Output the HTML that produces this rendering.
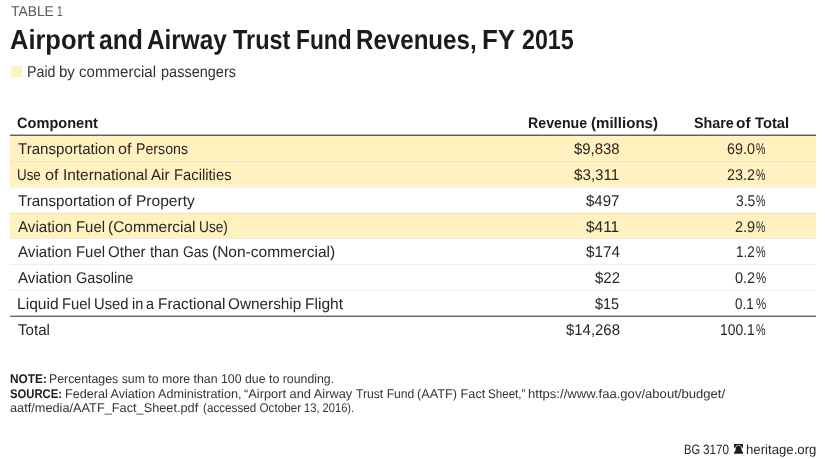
<!DOCTYPE html>
<html>
<head>
<meta charset="utf-8">
<title>Table 1</title>
<style>
html,body{margin:0;padding:0;background:#fff;}
body{will-change:transform;text-rendering:geometricPrecision;width:825px;height:459px;position:relative;overflow:hidden;font-family:"Liberation Sans",sans-serif;color:#231f20;}
.abs{position:absolute;}
.g span{position:absolute;white-space:nowrap;line-height:1;transform-origin:0 0;}
.g b{font-weight:700;color:#1d1a1b;}
#legsq{left:11px;top:66px;width:11px;height:11px;background:#fff2bf;}
.band{position:absolute;left:10px;width:806px;background:#fff2bf;}
.band.half{background:#fff8df}
.band.q3{background:#fffbef}
.sep{position:absolute;left:10px;width:806px;height:1px;background:rgba(215,215,215,0.42);}
.rule{position:absolute;left:10px;width:806px;height:1px;}
#bell{left:733.9px;top:443.9px;}
#kick span{font-size:14.2px;color:#58585a;top:4.7px;}
#title span{font-size:27.5px;font-weight:700;color:#1d1a1b;top:25.72px;}
#leg span{font-size:15.8px;color:#333;top:64.8px;}
#hdr span{font-size:15.1px;font-weight:700;color:#1d1a1b;top:115.9px;}
#r1 span{font-size:15.5px;color:#2a2627;top:141.78px;}
#r2 span{font-size:15.5px;color:#2a2627;top:167.78px;}
#r3 span{font-size:15.5px;color:#2a2627;top:193.78px;}
#r4 span{font-size:15.5px;color:#2a2627;top:219.78px;}
#r5 span{font-size:15.5px;color:#2a2627;top:244.78px;}
#r6 span{font-size:15.5px;color:#2a2627;top:270.78px;}
#r7 span{font-size:15.5px;color:#2a2627;top:296.78px;}
#r8 span{font-size:15.5px;color:#2a2627;top:322.78px;}
#n1 span{font-size:12.6px;color:#373334;top:373.0px;}
#n2 span{font-size:12.6px;color:#373334;top:388.0px;}
#n3 span{font-size:12.6px;color:#373334;top:402.0px;}
#foot span{font-size:13.6px;color:#2a2627;top:443.2px;}
</style>
</head>
<body>
<div class="g" id="kick"><span style="left:11.32px;transform:scaleX(0.9761)">TABLE</span> <span style="left:56.88px;transform:scaleX(0.7205)">1</span></div>
<div class="g" id="title"><span style="left:9.74px;transform:scaleX(0.9255)">Airport</span> <span style="left:99.00px;transform:scaleX(0.8994)">and</span> <span style="left:147.24px;transform:scaleX(0.8837)">Airway</span> <span style="left:232.82px;transform:scaleX(0.8539)">Trust</span> <span style="left:295.92px;transform:scaleX(0.8275)">Fund</span> <span style="left:355.92px;transform:scaleX(0.8766)">Revenues,</span> <span style="left:482.44px;transform:scaleX(0.9423)">FY</span> <span style="left:521.74px;transform:scaleX(0.8453)">2015</span></div>
<div id="legsq" class="abs"></div>
<div class="g" id="leg"><span style="left:27.02px;transform:scaleX(0.9019)">Paid</span> <span style="left:59.00px;transform:scaleX(0.9528)">by</span> <span style="left:78.98px;transform:scaleX(0.9536)">commercial</span> <span style="left:161.26px;transform:scaleX(0.9183)">passengers</span></div>
<div class="g" id="hdr"><span style="left:17.12px;transform:scaleX(0.9654)">Component</span> <span style="left:528.02px;transform:scaleX(0.9394)">Revenue</span> <span style="left:590.50px;transform:scaleX(0.9992)">(millions)</span> <span style="left:693.50px;transform:scaleX(0.9498)">Share</span> <span style="left:735.88px;transform:scaleX(1.0196)">of</span> <span style="left:754.54px;transform:scaleX(0.9777)">Total</span></div>
<div class="band" style="top:136px;height:50px"></div><div class="band half" style="top:186px;height:1px"></div>
<div class="band" style="top:213px;height:25px"></div><div class="band q3" style="top:212px;height:1px"></div>
<div class="g" id="r1"><span style="left:17.80px;transform:scaleX(0.9756)">Transportation</span> <span style="left:117.98px;transform:scaleX(1.0454)">of</span> <span style="left:136.02px;transform:scaleX(0.9163)">Persons</span> <span style="left:573.54px;transform:scaleX(0.9595)">$9,838</span> <span style="left:727.00px;transform:scaleX(0.9259)">69.0</span><span style="left:755.80px;transform:scaleX(0.6845)">%</span></div>
<div class="g" id="r2"><span style="left:17.00px;transform:scaleX(0.8640)">Use</span> <span style="left:45.00px;transform:scaleX(1.0480)">of</span> <span style="left:62.74px;transform:scaleX(0.9935)">International</span> <span style="left:151.34px;transform:scaleX(0.9778)">Air</span> <span style="left:173.98px;transform:scaleX(0.9542)">Facilities</span> <span style="left:573.54px;transform:scaleX(0.9794)">$3,311</span> <span style="left:727.00px;transform:scaleX(0.9259)">23.2</span><span style="left:755.80px;transform:scaleX(0.6845)">%</span></div>
<div class="g" id="r3"><span style="left:17.80px;transform:scaleX(0.9756)">Transportation</span> <span style="left:117.98px;transform:scaleX(1.0454)">of</span> <span style="left:136.02px;transform:scaleX(1.0029)">Property</span> <span style="left:585.54px;transform:scaleX(0.9678)">$497</span> <span style="left:735.50px;transform:scaleX(0.8938)">3.5</span><span style="left:755.80px;transform:scaleX(0.6845)">%</span></div>
<div class="g" id="r4"><span style="left:17.94px;transform:scaleX(0.9802)">Aviation</span> <span style="left:76.20px;transform:scaleX(0.9623)">Fuel</span> <span style="left:108.02px;transform:scaleX(0.9964)">(Commercial</span> <span style="left:198.74px;transform:scaleX(0.8824)">Use)</span> <span style="left:585.54px;transform:scaleX(0.9964)">$411</span> <span style="left:735.00px;transform:scaleX(0.9359)">2.9</span><span style="left:755.80px;transform:scaleX(0.6780)">%</span></div>
<div class="g" id="r5"><span style="left:17.94px;transform:scaleX(0.9769)">Aviation</span> <span style="left:76.20px;transform:scaleX(0.9623)">Fuel</span> <span style="left:108.02px;transform:scaleX(0.9704)">Other</span> <span style="left:150.04px;transform:scaleX(0.9571)">than</span> <span style="left:183.02px;transform:scaleX(0.8983)">Gas</span> <span style="left:211.98px;transform:scaleX(1.0001)">(Non-commercial)</span> <span style="left:585.54px;transform:scaleX(0.9862)">$174</span> <span style="left:735.98px;transform:scaleX(0.8658)">1.2</span><span style="left:755.80px;transform:scaleX(0.6995)">%</span></div>
<div class="g" id="r6"><span style="left:17.94px;transform:scaleX(0.9769)">Aviation</span> <span style="left:75.98px;transform:scaleX(0.9376)">Gasoline</span> <span style="left:594.82px;transform:scaleX(0.9680)">$22</span> <span style="left:735.00px;transform:scaleX(0.9359)">0.2</span><span style="left:755.80px;transform:scaleX(0.7374)">%</span></div>
<div class="g" id="r7"><span style="left:17.00px;transform:scaleX(1.0078)">Liquid</span> <span style="left:61.50px;transform:scaleX(0.9557)">Fuel</span> <span style="left:94.12px;transform:scaleX(0.9529)">Used</span> <span style="left:131.90px;transform:scaleX(0.9409)">in</span> <span style="left:145.74px;transform:scaleX(0.9278)">a</span> <span style="left:157.88px;transform:scaleX(0.9906)">Fractional</span> <span style="left:227.98px;transform:scaleX(0.9893)">Ownership</span> <span style="left:304.74px;transform:scaleX(1.0054)">Flight</span> <span style="left:594.82px;transform:scaleX(0.9318)">$15</span> <span style="left:735.00px;transform:scaleX(0.8705)">0.1</span><span style="left:755.80px;transform:scaleX(0.7374)">%</span></div>
<div class="g" id="r8"><span style="left:18.30px;transform:scaleX(0.9750)">Total</span> <span style="left:565.54px;transform:scaleX(0.9628)">$14,268</span> <span style="left:720.12px;transform:scaleX(0.8935)">100.1</span><span style="left:755.80px;transform:scaleX(0.6845)">%</span></div>
<div class="sep" style="top:161px"></div>
<div class="sep" style="top:187px"></div>
<div class="sep" style="top:213px"></div>
<div class="sep" style="top:238px"></div>
<div class="sep" style="top:264px"></div>
<div class="sep" style="top:290px"></div>
<div class="rule" style="top:134px;background:#b4b4b4"></div><div class="rule" style="top:135px;background:#675f52"></div>
<div class="rule" style="top:315px;background:#bebebe"></div><div class="rule" style="top:316px;background:#696767"></div>
<div class="g" id="n1"><span style="left:9.88px;transform:scaleX(0.9403)"><b>NOTE:</b></span> <span style="left:48.88px;transform:scaleX(0.9790)">Percentages sum to more than 100 due to rounding.</span></div>
<div class="g" id="n2"><span style="left:9.88px;transform:scaleX(0.8958)"><b>SOURCE:</b></span> <span style="left:64.50px;transform:scaleX(1.0013)">Federal Aviation Administration,</span> <span style="left:243.56px;transform:scaleX(1.0168)">“Airport and Airway</span> <span style="left:355.56px;transform:scaleX(0.9656)">Trust Fund</span> <span style="left:417.02px;transform:scaleX(1.0098)">(AATF) Fact</span> <span style="left:488.02px;transform:scaleX(0.9216)">Sheet,”</span> <span style="left:528.24px;transform:scaleX(1.0387)">https://www.faa.gov/about/budget/</span></div>
<div class="g" id="n3"><span style="left:9.88px;transform:scaleX(1.0121)">aatf/media/AATF_Fact_Sheet.pdf</span> <span style="left:203.02px;transform:scaleX(0.9278)">(accessed October</span> <span style="left:304.24px;transform:scaleX(0.8847)">13, 2016).</span></div>
<div class="g" id="foot"><span style="left:683.50px;transform:scaleX(0.8207)">BG</span> <span style="left:703.26px;transform:scaleX(0.8618)">3170</span> <span style="left:745.88px;transform:scaleX(0.9709)">heritage.org</span></div>
<svg id="bell" class="abs" width="9.2" height="9.8" viewBox="0 0 92 98"><path d="M0 0H92V37H0Z" fill="#1d1a1b"/><path d="M46 15C62 15 71 24 73 41C75 55 78 67 82 76L92 84V98H0V84L10 76C14 67 17 55 19 41C21 24 30 15 46 15Z" fill="#1d1a1b" stroke="#fff" stroke-width="12" paint-order="stroke"/></svg>
</body>
</html>
